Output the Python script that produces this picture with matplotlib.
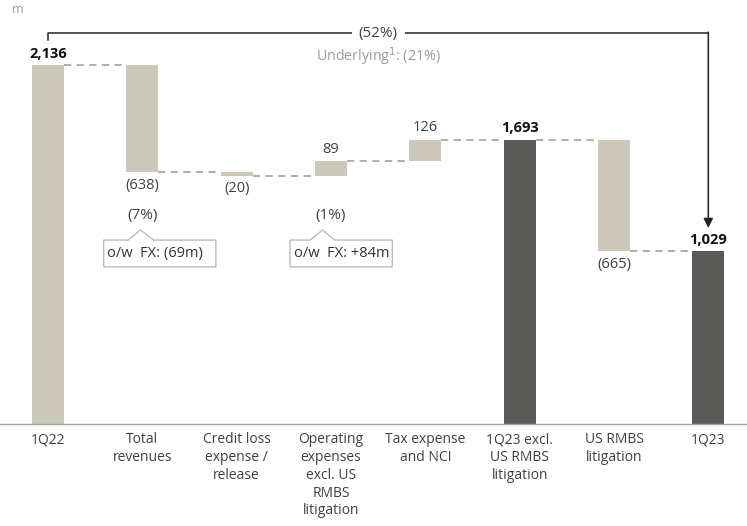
import matplotlib.pyplot as plt
from matplotlib.patches import Polygon

# datos del puente 1Q22 -> 1Q23 (USD m)
categorias = ["1Q22", "Total\nrevenues", "Credit loss\nexpense /\nrelease",
              "Operating\nexpenses\nexcl. US\nRMBS\nlitigation", "Tax expense\nand NCI",
              "1Q23 excl.\nUS RMBS\nlitigation", "US RMBS\nlitigation", "1Q23"]
valores = [2136, -638, -20, 89, 126, 1693, -665, 1029]
es_total = [True, False, False, False, False, True, False, True]
etiquetas = ["2,136", "(638)", "(20)", "89", "126", "1,693", "(665)", "1,029"]

claro = "#CCC9BB"
oscuro = "#5A5B59"
gris_txt = "#404040"

plt.rcParams["font.family"] = ["Open Sans", "Noto Sans", "DejaVu Sans"]

fig = plt.figure(figsize=(7.47, 5.26), dpi=100)
ax = fig.add_axes([0, 102 / 526, 1, 424 / 526])
ax.set_xlim(-0.509, 7.41)
ax.set_ylim(0, 2524)
ancho = 0.34

# barras de la cascada
nivel = 0
bases, topes = [], []
for i, v in enumerate(valores):
    if es_total[i]:
        base, tope = 0, v
        nivel = v
    else:
        base, tope = nivel, nivel + v
        nivel = tope
    bases.append(min(base, tope))
    topes.append(max(base, tope))
    ax.bar(i, abs(tope - base), bottom=min(base, tope), width=ancho,
           color=oscuro if es_total[i] and i > 0 else claro)

# conectores punteados
nivel = 0
niveles = []
for i, v in enumerate(valores):
    nivel = v if es_total[i] else nivel + v
    niveles.append(nivel)
for i in range(len(valores) - 1):
    ax.plot([i + ancho / 2, i + 1 - ancho / 2], [niveles[i], niveles[i]],
            color="#A8A8A8", lw=1.3, dashes=(4, 3))

# etiquetas de valor
for i, v in enumerate(valores):
    negrita = es_total[i]
    if v < 0:
        ax.annotate(etiquetas[i], (i, bases[i]), xytext=(0, -4), textcoords="offset points",
                    ha="center", va="top", fontsize=10.5, color=gris_txt)
    else:
        ax.annotate(etiquetas[i], (i, topes[i]), xytext=(0, 3), textcoords="offset points",
                    ha="center", va="bottom", fontsize=10.5,
                    color="#111111" if negrita else gris_txt,
                    fontweight="bold" if negrita else "normal")

# corchete superior (52%)
y_br = 2327
ax.plot([0, 0, 7], [2286, y_br, y_br], color="#222222", lw=1.1)
ax.annotate("", xy=(7, 1167), xytext=(7, y_br + 6),
            arrowprops=dict(arrowstyle="-|>", color="#222222", lw=1.1, mutation_scale=14,
                            shrinkA=0, shrinkB=0))
ax.text(3.5, y_br, "(52%)", ha="center", va="center", fontsize=11, color=gris_txt,
        bbox=dict(facecolor="white", edgecolor="none", pad=5))
ax.text(3.5, 2185, "Underlying$^{1}$: (21%)", ha="center", va="center", fontsize=10.3,
        color="#9A9A9A")

# cajas de comentario
cajas = [(1, "(7%)", "o/w  FX: (69m)", -0.41, 0.78, -0.15, -0.02, 0.12),
         (3, "(1%)", "o/w  FX: +84m", -0.435, 0.65, -0.22, -0.09, 0.04)]
for x, pct, txt, izq, der, n1, n2, n3 in cajas:
    ax.text(x, 1244, pct, ha="center", va="center", fontsize=11, color=gris_txt)
    y0, y1, yp = 935, 1095, 1155
    pts = [(x + izq, y0), (x + izq, y1), (x + n1, y1), (x + n2, yp), (x + n3, y1),
           (x + der, y1), (x + der, y0)]
    ax.add_patch(Polygon(pts, closed=True, facecolor="white", edgecolor="#BBBBBB", lw=1))
    ax.text(x + izq + 0.04, (y0 + y1) / 2, txt, ha="left", va="center", fontsize=10.5,
            color="#333333")

ax.text(0.016, 0.995, "m", transform=fig.transFigure, ha="left", va="top", fontsize=9,
        color="#9A9A9A")

# ejes
ax.set_xticks(range(len(categorias)))
ax.set_xticklabels(categorias, fontsize=10, color=gris_txt, linespacing=1.25, va="top")
ax.tick_params(axis="x", length=0, pad=6)
ax.set_yticks([])
for s in ["top", "right", "left"]:
    ax.spines[s].set_visible(False)
ax.spines["bottom"].set_color("#A0A0A0")
ax.spines["bottom"].set_linewidth(1)

plt.savefig("out.png", dpi=100)
